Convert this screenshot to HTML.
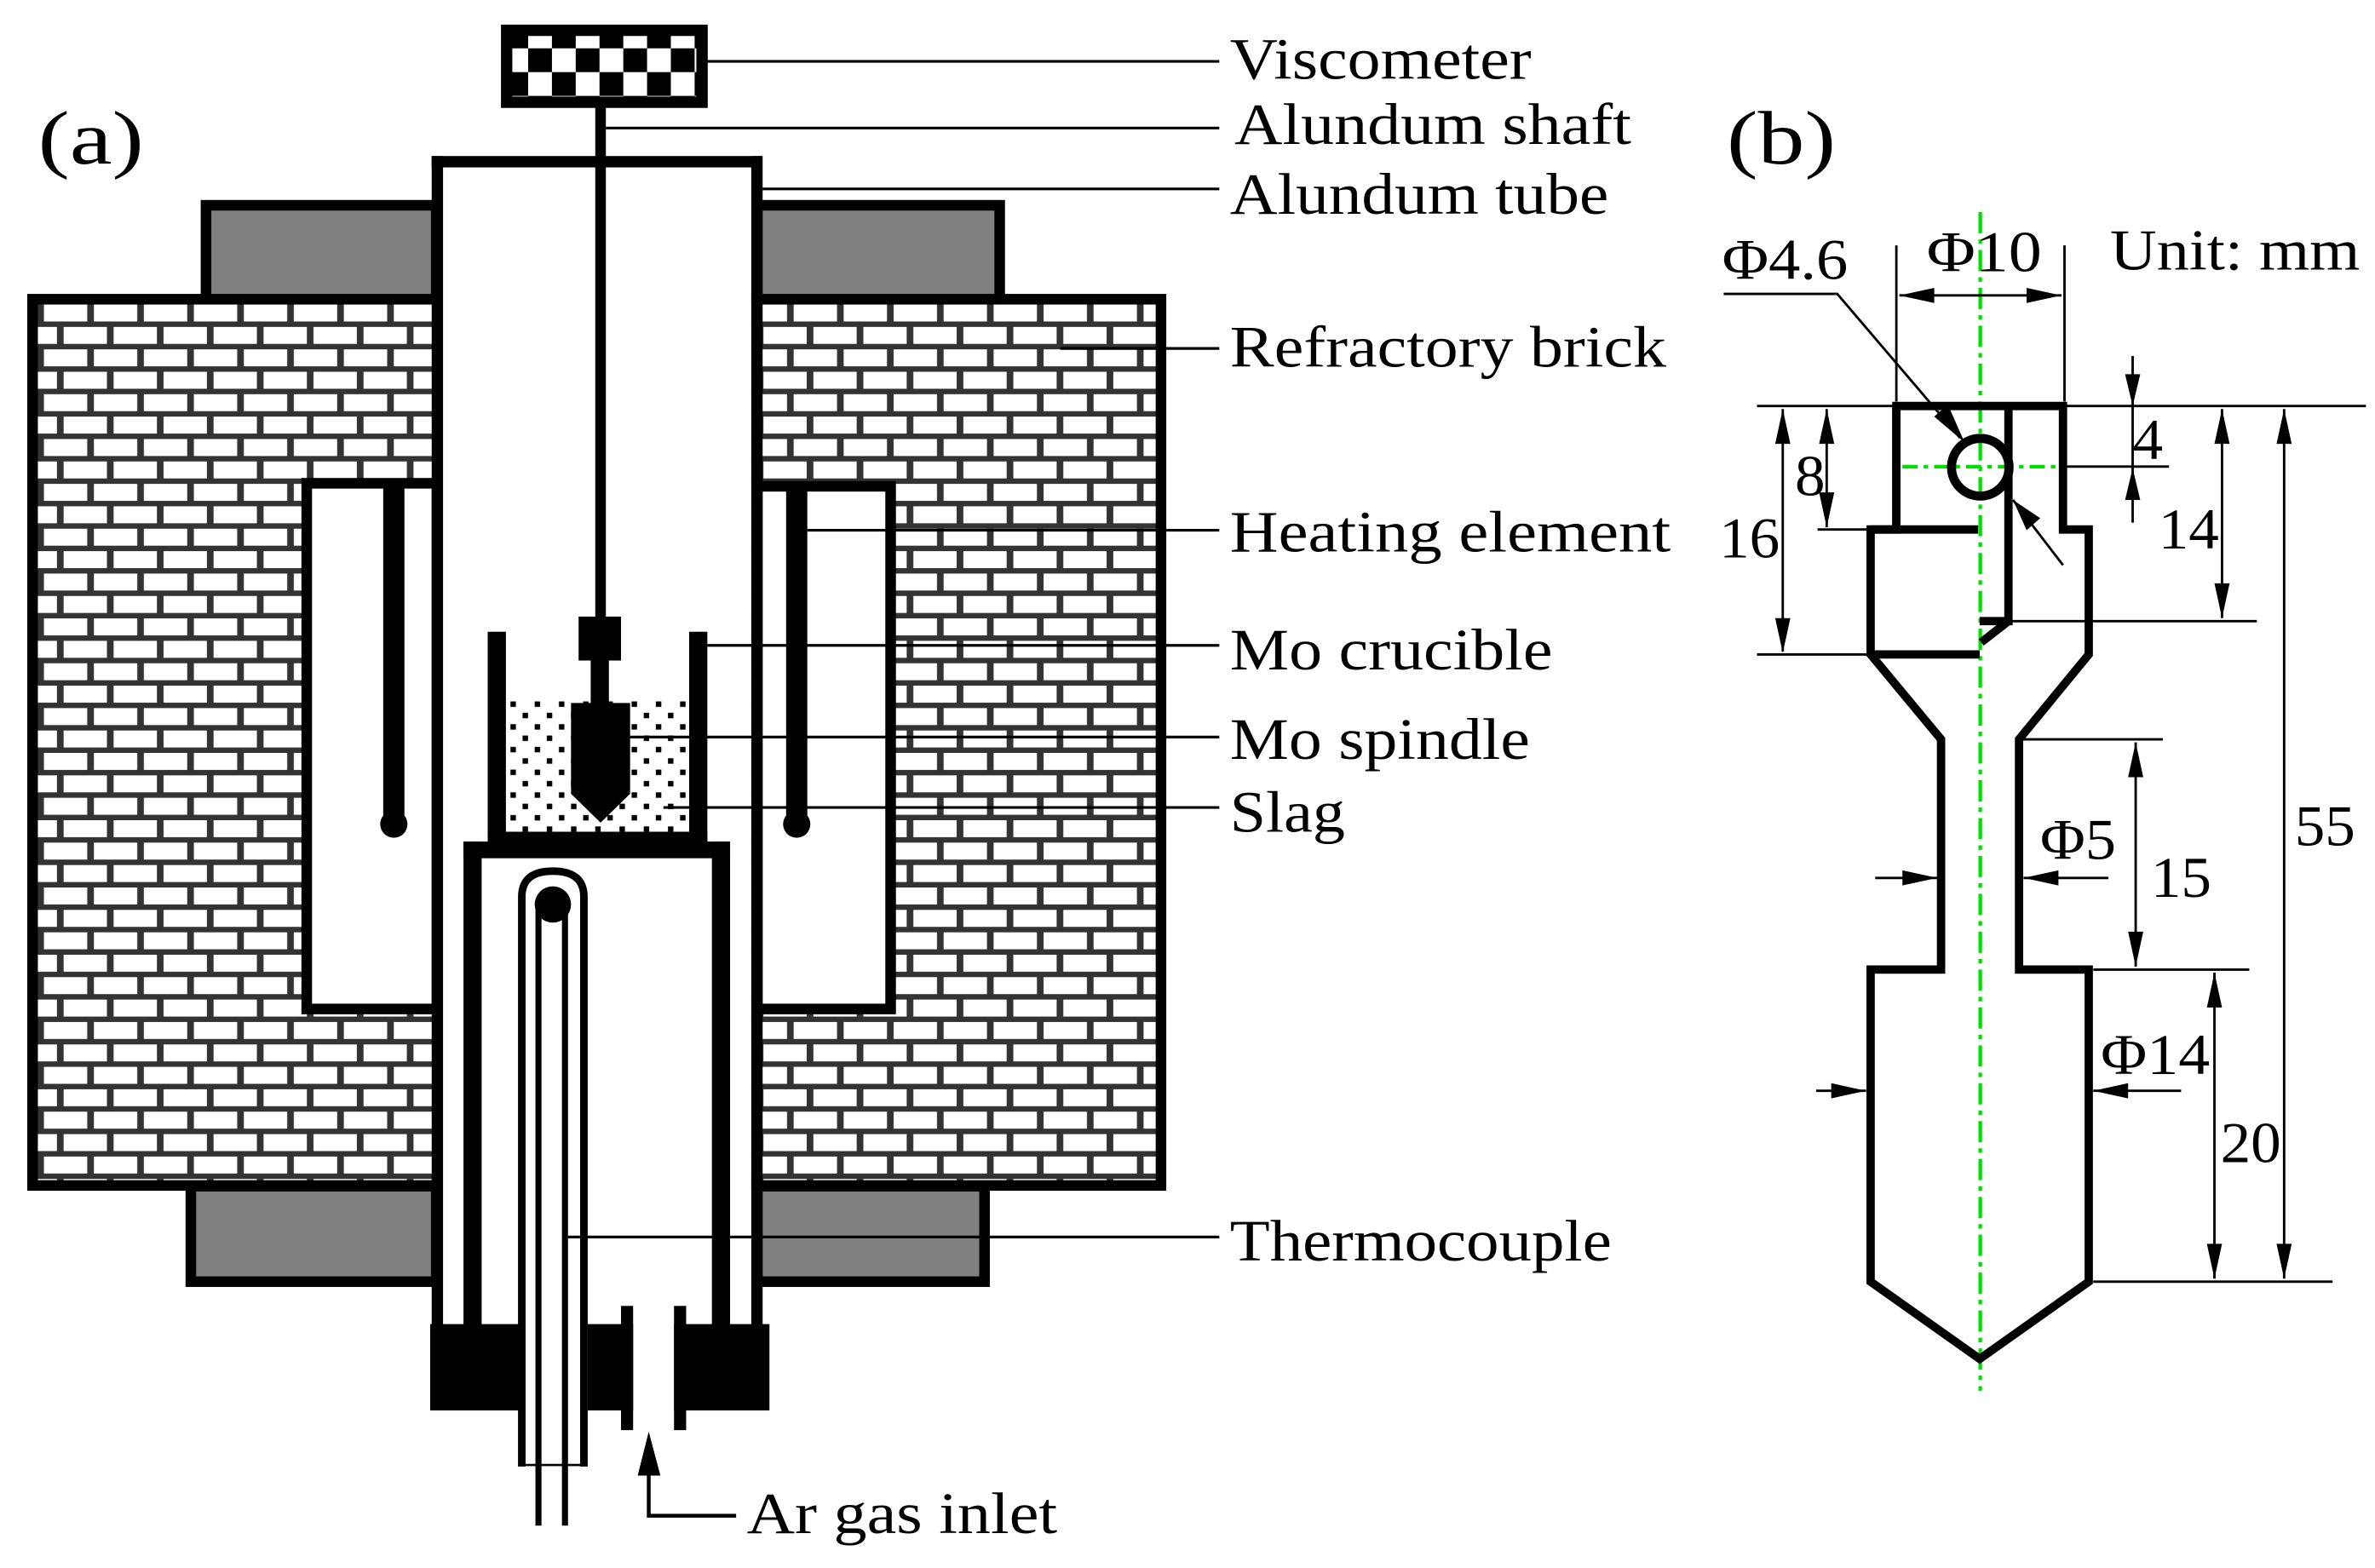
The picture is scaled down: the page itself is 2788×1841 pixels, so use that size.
<!DOCTYPE html>
<html><head><meta charset="utf-8"><style>
html,body{margin:0;padding:0;background:#fff;}
svg{display:block;}
text{font-family:"Liberation Serif","Times New Roman",serif;fill:#000;}
</style></head><body>
<svg width="2788" height="1841" viewBox="0 0 1568 1035" preserveAspectRatio="none" xmlns="http://www.w3.org/2000/svg">
<defs>
<pattern id="brick" patternUnits="userSpaceOnUse" x="25" y="201" width="33" height="29.6">
<rect width="33" height="29.6" fill="#333"/>
<rect x="4" y="0" width="28.6" height="11.2" fill="#fff"/>
<rect x="0" y="14.8" width="12.6" height="11.2" fill="#fff"/>
<rect x="17" y="14.8" width="16" height="11.2" fill="#fff"/>
</pattern>
<pattern id="dots" patternUnits="userSpaceOnUse" x="334" y="462" width="16" height="15">
<rect x="3" y="1" width="3.6" height="3.6" fill="#000"/>
<rect x="11" y="8.5" width="3.6" height="3.6" fill="#000"/>
</pattern>
<pattern id="chk" patternUnits="userSpaceOnUse" x="348.7" y="31.9" width="31.4" height="31.4">
<rect width="31.4" height="31.4" fill="#fff"/>
<rect x="0" y="0" width="15.7" height="15.7" fill="#000"/>
<rect x="15.7" y="15.7" width="15.7" height="15.7" fill="#000"/>
</pattern>
</defs>

<text x="25" y="108" font-size="50" textLength="70" lengthAdjust="spacingAndGlyphs">(a)</text>
<text x="1140" y="108" font-size="50" textLength="72" lengthAdjust="spacingAndGlyphs">(b)</text>

<rect x="21.5" y="197.5" width="745" height="585" fill="url(#brick)" stroke="#000" stroke-width="7"/>
<rect x="136" y="135.5" width="152" height="62" fill="#808080" stroke="#000" stroke-width="7"/>
<rect x="500" y="135.5" width="160" height="62" fill="#808080" stroke="#000" stroke-width="7"/>
<rect x="126" y="783" width="162" height="63" fill="#808080" stroke="#000" stroke-width="7"/>
<rect x="500" y="783" width="150" height="63" fill="#808080" stroke="#000" stroke-width="7"/>

<rect x="202.5" y="319" width="86" height="347" fill="#fff" stroke="#000" stroke-width="7"/>
<rect x="500" y="321" width="88" height="345" fill="#fff" stroke="#000" stroke-width="7"/>
<rect x="292" y="110" width="204" height="765" fill="#fff"/>
<rect x="285" y="103" width="7.5" height="772" fill="#000"/>
<rect x="496" y="103" width="7.5" height="772" fill="#000"/>
<rect x="285" y="103" width="218" height="7.5" fill="#000"/>

<rect x="253" y="322" width="14" height="222" fill="#000"/>
<circle cx="260" cy="544" r="9" fill="#000"/>
<rect x="519" y="322" width="14" height="222" fill="#000"/>
<circle cx="526" cy="544" r="9" fill="#000"/>

<rect x="334.5" y="20" width="129" height="47.5" fill="url(#chk)" stroke="#000" stroke-width="7.5"/>
<rect x="393" y="70" width="7" height="340" fill="#000"/>
<rect x="382" y="407" width="28" height="29" fill="#000"/>
<rect x="390" y="434" width="12" height="32" fill="#000"/>

<rect x="334" y="462" width="121" height="88" fill="url(#dots)"/>
<rect x="322" y="417" width="12" height="140" fill="#000"/>
<rect x="455" y="417" width="12" height="140" fill="#000"/>
<rect x="322" y="549" width="145" height="8" fill="#000"/>
<path d="M377,464 H416 V524 L396.5,543 L377,524 Z" fill="#000"/>

<rect x="306" y="555.5" width="176" height="11" fill="#000"/>
<rect x="306" y="555.5" width="12" height="320" fill="#000"/>
<rect x="470" y="555.5" width="12" height="320" fill="#000"/>

<path d="M344.5,968 V592 Q344.5,575 365,575 Q385.5,575 385.5,592 V968" fill="none" stroke="#000" stroke-width="5"/>
<line x1="347" y1="967" x2="383" y2="967" stroke="#000" stroke-width="1.5"/>
<path d="M355.5,1007 V596 M373,1007 V596" stroke="#000" stroke-width="4" fill="none"/>
<circle cx="365" cy="597" r="12" fill="#000"/>

<rect x="284" y="874" width="63" height="57" fill="#000"/>
<rect x="388" y="874" width="30" height="57" fill="#000"/>
<rect x="410" y="862" width="8" height="82" fill="#000"/>
<rect x="445" y="874" width="63" height="57" fill="#000"/>
<rect x="445" y="862" width="8" height="82" fill="#000"/>

<polygon points="428.3,945 421,974 436,974" fill="#000"/>
<path d="M428.3,970 V1000.5 H486" fill="none" stroke="#000" stroke-width="2.5"/>

<g stroke="#000" stroke-width="1.8">
<line x1="465" y1="40.5" x2="805" y2="40.5"/>
<line x1="400" y1="84.5" x2="805" y2="84.5"/>
<line x1="503" y1="124.7" x2="805" y2="124.7"/>
<line x1="700" y1="230" x2="805" y2="230"/>
<line x1="533" y1="350" x2="805" y2="350"/>
<line x1="467" y1="426" x2="805" y2="426"/>
<line x1="416" y1="486.5" x2="805" y2="486.5"/>
<line x1="438" y1="533" x2="805" y2="533"/>
<line x1="375" y1="816.5" x2="805" y2="816.5"/>
</g>
<g font-size="39">
<text x="812" y="52" textLength="199" lengthAdjust="spacingAndGlyphs">Viscometer</text>
<text x="815" y="95" textLength="262" lengthAdjust="spacingAndGlyphs">Alundum shaft</text>
<text x="812" y="141" textLength="250" lengthAdjust="spacingAndGlyphs">Alundum tube</text>
<text x="812" y="242" textLength="288" lengthAdjust="spacingAndGlyphs">Refractory brick</text>
<text x="812" y="364" textLength="291" lengthAdjust="spacingAndGlyphs">Heating element</text>
<text x="812" y="442" textLength="213" lengthAdjust="spacingAndGlyphs">Mo crucible</text>
<text x="812" y="501" textLength="198" lengthAdjust="spacingAndGlyphs">Mo spindle</text>
<text x="812" y="549" textLength="76" lengthAdjust="spacingAndGlyphs">Slag</text>
<text x="812" y="832" textLength="252" lengthAdjust="spacingAndGlyphs">Thermocouple</text>
<text x="493" y="1012" textLength="205" lengthAdjust="spacingAndGlyphs">Ar gas inlet</text>
</g>

<line x1="1307.4" y1="140" x2="1307.4" y2="918" stroke="#00e000" stroke-width="2.4" stroke-dasharray="14,4,3,4"/>
<line x1="1256" y1="308" x2="1358" y2="308" stroke="#00e000" stroke-width="2.4" stroke-dasharray="10,4,3,4"/>

<g fill="none" stroke="#000" stroke-width="5.5" stroke-linejoin="miter">
<path d="M1252,268 H1362 V349.5 H1379 V432 L1333,488 V640 H1379 V846 L1307,897 L1235,846 V640 H1281.5 V488 L1235,432 V349.5 H1252 Z"/>
<path d="M1252,268 V349.5"/>
<path d="M1235,349.5 H1306"/>
<path d="M1235,432 H1307"/>
<path d="M1326,268 V410 H1307"/>
<path d="M1326,410 L1308,424"/>
<circle cx="1307.4" cy="308.4" r="19" stroke-width="6"/>
</g>

<g stroke="#000" stroke-width="1.6" fill="none">
<line x1="1160" y1="268" x2="1252" y2="268"/>
<line x1="1362" y1="268" x2="1562" y2="268"/>
<line x1="1252" y1="162" x2="1252" y2="265"/>
<line x1="1363" y1="162" x2="1363" y2="265"/>
<line x1="1254" y1="195" x2="1361" y2="195"/>
<polyline points="1138,194 1213,194 1294,289"/>
<line x1="1329" y1="330" x2="1362" y2="373"/>
<line x1="1200" y1="349.5" x2="1235" y2="349.5"/>
<line x1="1160" y1="432" x2="1235" y2="432"/>
<line x1="1177" y1="270" x2="1177" y2="430"/>
<line x1="1206" y1="270" x2="1206" y2="348"/>
<line x1="1408" y1="235" x2="1408" y2="345"/>
<line x1="1362" y1="308" x2="1432" y2="308"/>
<line x1="1467" y1="270" x2="1467" y2="408"/>
<line x1="1327" y1="410" x2="1490" y2="410"/>
<line x1="1508" y1="270" x2="1508" y2="844"/>
<line x1="1336" y1="488" x2="1428" y2="488"/>
<line x1="1410" y1="490" x2="1410" y2="638"/>
<line x1="1382" y1="640" x2="1485" y2="640"/>
<line x1="1462" y1="642" x2="1462" y2="844"/>
<line x1="1382" y1="846" x2="1540" y2="846"/>
<line x1="1238" y1="579.5" x2="1279" y2="579.5"/>
<line x1="1336" y1="579.5" x2="1392" y2="579.5"/>
<line x1="1199" y1="720" x2="1232" y2="720"/>
<line x1="1382" y1="720" x2="1440" y2="720"/>
</g>
<g fill="#000">
<polygon points="1254,195 1277,190 1277,200"/>
<polygon points="1361,195 1338,190 1338,200"/>
<polygon points="1297,292 1277,275 1286,267"/>
<polygon points="1329,330 1347,342 1338,350"/>
<polygon points="1177,270 1172,293 1182,293"/>
<polygon points="1177,431 1172,408 1182,408"/>
<polygon points="1206,270 1201,293 1211,293"/>
<polygon points="1206,348 1201,325 1211,325"/>
<polygon points="1408,268 1403,247 1413,247"/>
<polygon points="1408,309 1403,330 1413,330"/>
<polygon points="1467,270 1462,293 1472,293"/>
<polygon points="1467,408 1462,385 1472,385"/>
<polygon points="1508,270 1503,293 1513,293"/>
<polygon points="1508,844 1503,821 1513,821"/>
<polygon points="1410,490 1405,513 1415,513"/>
<polygon points="1410,638 1405,615 1415,615"/>
<polygon points="1462,642 1457,665 1467,665"/>
<polygon points="1462,844 1457,821 1467,821"/>
<polygon points="1279,579.5 1256,574.5 1256,584.5"/>
<polygon points="1336,579.5 1359,574.5 1359,584.5"/>
<polygon points="1232,720 1209,715 1209,725"/>
<polygon points="1382,720 1405,715 1405,725"/>
</g>
<g font-size="38">
<text x="1137" y="184" textLength="83" lengthAdjust="spacingAndGlyphs">Φ4.6</text>
<text x="1272" y="179" textLength="76" lengthAdjust="spacingAndGlyphs">Φ10</text>
<text x="1393" y="178" textLength="165" lengthAdjust="spacingAndGlyphs">Unit: mm</text>
<text x="1135" y="368" textLength="40" lengthAdjust="spacingAndGlyphs">16</text>
<text x="1185" y="327" textLength="20" lengthAdjust="spacingAndGlyphs">8</text>
<text x="1408" y="303" textLength="20" lengthAdjust="spacingAndGlyphs">4</text>
<text x="1425" y="362" textLength="40" lengthAdjust="spacingAndGlyphs">14</text>
<text x="1515" y="558" textLength="40" lengthAdjust="spacingAndGlyphs">55</text>
<text x="1347" y="567" textLength="50" lengthAdjust="spacingAndGlyphs">Φ5</text>
<text x="1420" y="592" textLength="40" lengthAdjust="spacingAndGlyphs">15</text>
<text x="1387" y="709" textLength="72" lengthAdjust="spacingAndGlyphs">Φ14</text>
<text x="1466" y="767" textLength="40" lengthAdjust="spacingAndGlyphs">20</text>
</g>
</svg>
</body></html>
